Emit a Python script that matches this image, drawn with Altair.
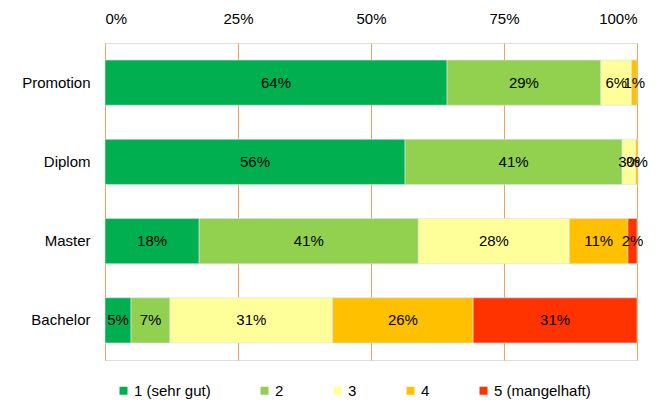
import altair as alt
import pandas as pd

categories = ["Promotion", "Diplom", "Master", "Bachelor"]
grades = ["1 (sehr gut)", "2", "3", "4", "5 (mangelhaft)"]
colors = ["#00B050", "#92D050", "#FFFF99", "#FFC000", "#FF3300"]

# percent values per category, in grade order 1..5
promotion = [64.3, 28.9, 5.8, 1.0, 0.0]
diplom = [56.4, 40.8, 2.6, 0.4, 0.0]
master = [17.7, 41.2, 28.4, 11.0, 1.7]
bachelor = [4.9, 7.3, 30.6, 26.4, 30.8]

rows = []
for cat, vals in zip(categories, [promotion, diplom, master, bachelor]):
    for i, (g, v) in enumerate(zip(grades, vals)):
        if v > 0:
            rows.append({"cat": cat, "grade": g, "order": i, "value": v / 100.0})
df = pd.DataFrame(rows)

FONT = "Liberation Sans"
FRAME = "#F5A05A"

base = alt.Chart(df).transform_stack(
    stack="value", groupby=["cat"], as_=["x0", "x1"],
    sort=[alt.SortField("order", order="ascending")]
).transform_calculate(mid="(datum.x0 + datum.x1) / 2")

y_enc = alt.Y("cat:N", sort=categories,
              scale=alt.Scale(paddingInner=0.43, paddingOuter=0.215),
              axis=alt.Axis(title=None, ticks=False, domain=False, labelFont=FONT,
                            labelFontSize=15, labelColor="#000000", labelPadding=15))

bars = base.mark_bar(stroke="#D8E0EC", strokeWidth=0.6).encode(
    x=alt.X("x0:Q", scale=alt.Scale(domain=[0, 1], nice=False),
            axis=alt.Axis(orient="top", format=".0%", values=[0, 0.25, 0.5, 0.75, 1],
                          title=None, ticks=False, domain=False, grid=True,
                          gridColor=FRAME, gridOpacity=1, gridWidth=1,
                          labelFont=FONT, labelFontSize=15, labelColor="#000000",
                          labelPadding=17)),
    x2="x1:Q",
    y=y_enc,
    color=alt.Color("grade:N", scale=alt.Scale(domain=grades, range=colors),
                    legend=alt.Legend(title=None, orient="none", direction="horizontal",
                                      columns=5, legendX=11, legendY=340,
                                      symbolType="square", symbolSize=64,
                                      symbolStrokeWidth=0, labelFont=FONT,
                                      labelFontSize=15, labelColor="#000000",
                                      columnPadding=46, labelOffset=3)),
    order=alt.Order("order:Q"),
)

labels = base.mark_text(font=FONT, fontSize=15, color="#000000").encode(
    x=alt.X("mid:Q"),
    y=alt.Y("cat:N", sort=categories),
    text=alt.Text("value:Q", format=".0%"),
)

chart = alt.layer(bars, labels).properties(
    width=532, height=317,
    autosize=alt.AutoSizeParams(type="none"),
    padding={"left": 97, "top": 35, "right": 23, "bottom": 40},
).configure_view(stroke=FRAME, strokeWidth=1.5).configure(background="white")

chart.save("out.html", embed_options={"renderer": "svg", "actions": False})
